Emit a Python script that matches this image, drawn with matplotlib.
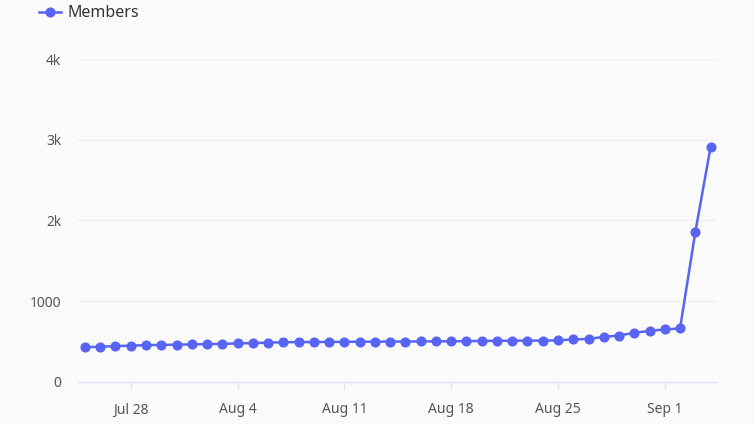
import matplotlib
matplotlib.use("Agg")
import matplotlib.pyplot as plt
import matplotlib.dates as mdates
import numpy as np
import datetime as dt

start_date = "2024-07-25"
members = [427, 434, 441, 447, 453, 456, 459, 462, 465, 469, 474, 478, 484, 489,
           491, 492, 493, 494, 495, 496, 497, 498, 499, 500, 501, 503, 505, 507,
           508, 509, 510, 512, 524, 530, 556, 572, 606, 630, 648, 660, 1856, 2910]
series_name = "Members"
y_ticks = [0, 1000, 2000, 3000, 4000]
y_tick_labels = ["0", "1000", "2k", "3k", "4k"]
x_tick_dates = ["2024-07-28", "2024-08-04", "2024-08-11", "2024-08-18", "2024-08-25", "2024-09-01"]
x_tick_labels = ["Jul 28", "Aug 4", "Aug 11", "Aug 18", "Aug 25", "Sep 1"]

plt.rcParams['font.family'] = ['Noto Sans', 'DejaVu Sans']

d0 = dt.date.fromisoformat(start_date)
dates = [d0 + dt.timedelta(days=i) for i in range(len(members))]
xs = mdates.date2num(dates)

bg = "#fbfbfc"
color = "#5865F2"

fig = plt.figure(figsize=(7.54, 4.25), dpi=100, facecolor=bg)
ax = fig.add_axes([0.1034, 0.102, 0.8475, 0.7586], facecolor=bg)

ax.plot(xs, members, color=color, lw=1.8, marker='o', markersize=7.3,
        markeredgewidth=0, label=series_name, zorder=3, clip_on=False)

ax.set_ylim(0, 4000)
ax.set_xlim(xs[0] - 0.46, xs[-1] + 0.42)
ax.set_yticks(y_ticks)
ax.set_yticklabels(y_tick_labels)
tick_x = mdates.date2num([dt.date.fromisoformat(s) for s in x_tick_dates])
ax.set_xticks(tick_x)
ax.set_xticklabels(x_tick_labels)

ax.grid(axis='y', color="#eef0f4", lw=1)
ax.set_axisbelow(True)
for s in ['top', 'right', 'left']:
    ax.spines[s].set_visible(False)
ax.spines['bottom'].set_color("#dde6f3")
ax.spines['bottom'].set_linewidth(1)
ax.tick_params(axis='y', length=0, pad=12, labelsize=10, labelcolor="#555555")
ax.tick_params(axis='x', length=6, width=1, color="#dde6f3", pad=9,
               labelsize=10, labelcolor="#555555")

leg = fig.legend(handles=ax.get_lines(), labels=[series_name], loc='upper left',
                 bbox_to_anchor=(0.033, 1.021), frameon=False, fontsize=11.5,
                 handlelength=1.35, handletextpad=0.4, labelcolor="#333333")

fig.savefig("out.png", dpi=100, facecolor=bg)
